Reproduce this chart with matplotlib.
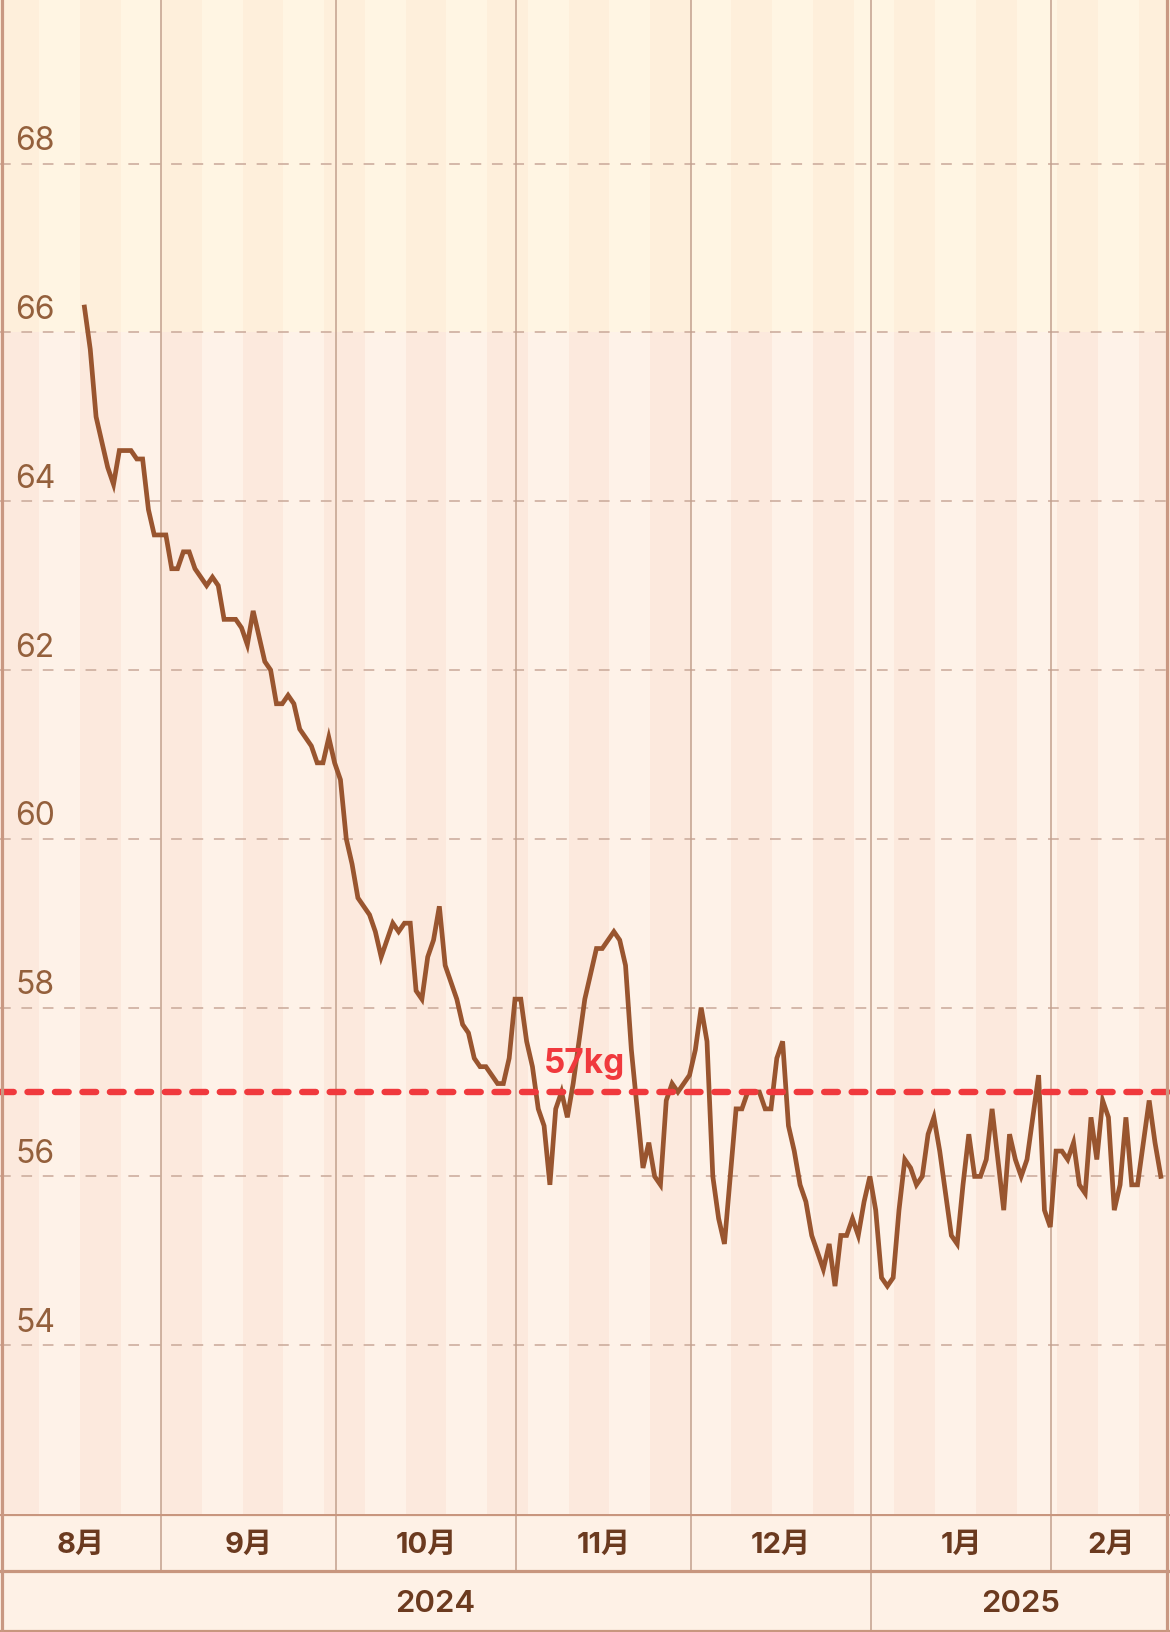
import matplotlib
matplotlib.use('Agg')
import matplotlib.pyplot as plt
import matplotlib.dates as mdates
import numpy as np
import pandas as pd

plt.rcParams['font.family'] = ['Inter', 'Noto Sans CJK JP', 'DejaVu Sans']

# daily weight (kg), 2024-08-18 .. 2025-02-19
weights = [
    66.3, 65.8, 65.0, 64.7, 64.4, 64.2, 64.6, 64.6, 64.6, 64.5, 64.5, 63.9, 63.6, 63.6,   # Aug 18-31
    63.6, 63.2, 63.2, 63.4, 63.4, 63.2, 63.1, 63.0, 63.1, 63.0, 62.6, 62.6, 62.6, 62.5,   # Sep 1-14
    62.3, 62.7, 62.4, 62.1, 62.0, 61.6, 61.6, 61.7, 61.6, 61.3, 61.2, 61.1, 60.9, 60.9,   # Sep 15-28
    61.2, 60.9,                                                                           # Sep 29-30
    60.7, 60.0, 59.7, 59.3, 59.2, 59.1, 58.9, 58.6, 58.8, 59.0, 58.9, 59.0, 59.0, 58.2,   # Oct 1-14
    58.1, 58.6, 58.8, 59.2, 58.5, 58.3, 58.1, 57.8, 57.7, 57.4, 57.3, 57.3, 57.2, 57.1,   # Oct 15-28
    57.1, 57.4, 58.1,                                                                     # Oct 29-31
    58.1, 57.6, 57.3, 56.8, 56.6, 55.9, 56.8, 57.0, 56.7, 57.1, 57.6, 58.1, 58.4, 58.7,   # Nov 1-14
    58.7, 58.8, 58.9, 58.8, 58.5, 57.5, 56.8, 56.1, 56.4, 56.0, 55.9, 56.9, 57.1, 57.0,   # Nov 15-28
    57.1, 57.2,                                                                           # Nov 29-30
    57.5, 58.0, 57.6, 56.0, 55.5, 55.2, 56.0, 56.8, 56.8, 57.0, 57.0, 57.0, 56.8, 56.8,   # Dec 1-14
    57.4, 57.6, 56.6, 56.3, 55.9, 55.7, 55.3, 55.1, 54.9, 55.2, 54.7, 55.3, 55.3, 55.5,   # Dec 15-28
    55.3, 55.7, 56.0,                                                                     # Dec 29-31
    55.6, 54.8, 54.7, 54.8, 55.6, 56.2, 56.1, 55.9, 56.0, 56.5, 56.7, 56.3, 55.8, 55.3,   # Jan 1-14
    55.2, 55.9, 56.5, 56.0, 56.0, 56.2, 56.8, 56.2, 55.6, 56.5, 56.2, 56.0, 56.2, 56.7,   # Jan 15-28
    57.2, 55.6, 55.4,                                                                     # Jan 29-31
    56.3, 56.3, 56.2, 56.4, 55.9, 55.8, 56.7, 56.2, 56.9, 56.7, 55.6, 55.9, 56.7, 55.9,   # Feb 1-14
    55.9, 56.4, 56.9, 56.4, 56.0,                                                         # Feb 15-19
]
start_day = '2024-08-18 19:00'
goal = 57
yticks = [54, 56, 58, 60, 62, 64, 66, 68]
zone_limit = 66
month_starts = ['2024-08-01', '2024-09-01', '2024-10-01', '2024-11-01', '2024-12-01',
                '2025-01-01', '2025-02-01', '2025-03-01']
month_labels = ['8月', '9月', '10月', '11月', '12月', '1月', '2月']
years = ['2024', '2025']
year_starts = ['2024-01-01', '2025-01-01', '2026-01-01']

dates = pd.date_range(start_day, periods=len(weights), freq='D')

W, H = 1170, 1633
fig = plt.figure(figsize=(W / 100, H / 100), dpi=100)
fig.patch.set_facecolor('#FEF1E6')

base = mdates.date2num(pd.Timestamp('2024-08-01'))
x0, x1 = base + 3.28, base + 204.37
y0, y1 = 52.0, 69.95

plot_bottom = 1515
ax = fig.add_axes([0, (H - plot_bottom) / H, 1, plot_bottom / H])
ax.set_xlim(x0, x1)
ax.set_ylim(y0, y1)
ax.axis('off')

# weekly stripes (weeks start on Sunday)
upper_cols = ['#FEEFDB', '#FFF5E3']
lower_cols = ['#FCE9DD', '#FEF2E8']
zf = (zone_limit - y0) / (y1 - y0)
wk = pd.Timestamp('2024-08-04')
k = 0
while mdates.date2num(wk) < x1:
    a = mdates.date2num(wk)
    b = a + 7
    ax.axvspan(a, b, ymin=0, ymax=zf, color=lower_cols[k % 2], lw=0, zorder=0)
    ax.axvspan(a, b, ymin=zf, ymax=1, color=upper_cols[k % 2], lw=0, zorder=0)
    wk += pd.Timedelta(days=7)
    k += 1

for v in yticks:
    ax.axhline(v, color='#C9A899', lw=1.1, dashes=(7, 7), zorder=1)
    ax.text(15 / W, v + 0.17, str(v), transform=ax.get_yaxis_transform(),
            fontsize=23, color='#94603C', va='baseline', ha='left', zorder=2)

mnums = [mdates.date2num(pd.Timestamp(m)) for m in month_starts]
for m in mnums[1:-1]:
    ax.axvline(m, color='#C2A08D', lw=1.1, zorder=1)

ax.plot(dates, weights, color='#99552F', lw=3.4, solid_joinstyle='miter', zorder=3)

ax.axhline(goal, color='#F0393D', lw=4.6, dashes=(2.15, 2.15),
           dash_capstyle='round', zorder=4)
ax.text(0.5, goal + 0.24, '%dkg' % goal, transform=ax.get_yaxis_transform(),
        fontsize=24, fontweight='bold', color='#F0393D', ha='center',
        va='baseline', zorder=5)

# bottom bands
band_h = H - plot_bottom
ax2 = fig.add_axes([0, 0, 1, band_h / H])
ax2.set_xlim(x0, x1)
ax2.set_ylim(band_h, 0)
ax2.axis('off')
ax2.axvspan(x0, x1, color='#FEF1E6', lw=0, zorder=0)
line_col = '#C8967E'
for yy in [0, 57, 116.5]:
    ax2.axhline(yy, color=line_col, lw=2.3, zorder=2)
ynums = [mdates.date2num(pd.Timestamp(y)) for y in year_starts]
for m in mnums[1:-1]:
    ax2.plot([m, m], [0, band_h if m in ynums else 57], color='#C2A08D', lw=1.1, zorder=1)

for i, lab in enumerate(month_labels):
    a = max(mnums[i], x0)
    b = min(mnums[i + 1], x1)
    ax2.text((a + b) / 2, 30, lab, fontsize=21, fontweight='bold',
             color='#6B3A1F', ha='center', va='center')
for i, lab in enumerate(years):
    a = max(ynums[i], x0)
    b = min(ynums[i + 1], x1)
    ax2.text((a + b) / 2, 89, lab, fontsize=22.5, fontweight='semibold',
             color='#6B3A1F', ha='center', va='center')

# card border
fig.add_artist(plt.Line2D([1.5 / W, 1.5 / W], [0, 1], color='#C99882', lw=2.3))
fig.add_artist(plt.Line2D([1166.5 / W, 1166.5 / W], [0, 1], color='#C99882', lw=2.3))

fig.savefig('out.png', dpi=100)
